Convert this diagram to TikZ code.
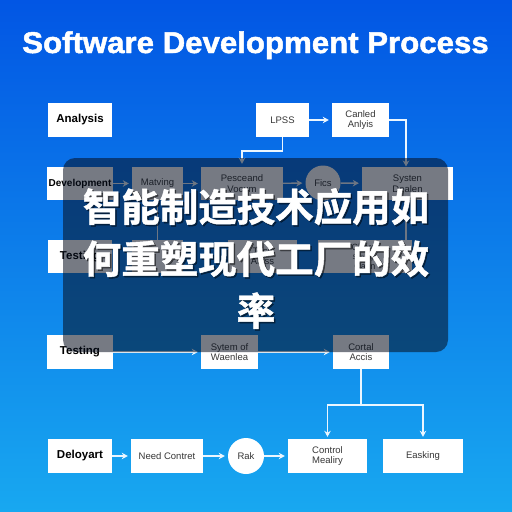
\documentclass[tikz,border=0pt]{standalone}
\usepackage{fontspec}
\setmainfont{Liberation Sans}
\newfontfamily\cjk{Noto Sans CJK SC Bold}[FakeBold=1.2]
\newfontfamily\titlefont{Liberation Sans Bold}[FakeBold=1.6]
\usetikzlibrary{arrows.meta,shapes.geometric}
\definecolor{bgtop}{RGB}{2,86,228}
\definecolor{bgmid}{RGB}{10,128,234}
\definecolor{bgbot}{RGB}{24,168,240}
\definecolor{boxtxt}{RGB}{55,55,55}
\definecolor{wirec}{RGB}{235,246,255}
\definecolor{veil}{RGB}{6,14,30}
\tikzset{
  box/.style={fill=white, inner sep=1pt, align=center, text=boxtxt,
    font=\fontsize{9.5}{10.5}\selectfont, minimum height=34pt},
  lbl/.style={box, text=black, font=\bfseries\fontsize{11.5}{13}\selectfont},
  circ/.style={circle, fill=white, minimum size=35pt, inner sep=0pt, text=boxtxt,
    font=\fontsize{9.5}{10.5}\selectfont},
  wire/.style={draw=wirec, line width=1.4pt},
  arr/.style={wire, -{Stealth[length=6pt,width=6.5pt]}, shorten >=3pt},
  headtext/.style={align=center, font=\cjk\fontsize{38.5}{52}\selectfont},
}
\begin{document}
\begin{tikzpicture}[x=1pt,y=-1pt]
\shade[top color=bgtop, middle color=bgmid, bottom color=bgbot] (0,0) rectangle (512,512);
\useasboundingbox (0,0) rectangle (512,512);
% title
\node[anchor=base, text=white, font=\titlefont\fontsize{30}{34}\selectfont] (title) at (255.5,53) {\scalebox{1.04}[1]{Software Development Process}};
% row 1
\node[lbl, minimum width=64pt] (ana) at (80,120) {Analysis};
\node[box, minimum width=53pt] (lpss) at (282.5,120) {LPSS};
\node[box, minimum width=57pt] (canled) at (360.5,120) {Canled\\Anlyis};
% row 2
\node[lbl, minimum width=66pt, minimum height=33pt, font=\bfseries\fontsize{10}{12}\selectfont] (dev) at (80,183.5) {Development};
\node[box, minimum width=51pt, minimum height=33pt] (mat) at (157.5,183.5) {Matving};
\node[box, minimum width=82pt, minimum height=33pt] (pass) at (242,183.5) {Pesceand\\Vocum};
\node[circ] (fics) at (323,183) {Fics};
\node[box, minimum width=91pt, minimum height=33pt] (sys) at (407.5,183.5) {Systen\\Dealen};
% row 3
\node[lbl, minimum width=64pt, minimum height=33pt] (test1) at (80,256.5) {Testing};
\node[box, minimum width=51pt, minimum height=33pt] (r3a) at (157.5,256.5) {};
\node[box, minimum width=69pt, minimum height=33pt] (r3b) at (262.5,256.5) {Tess\\Aniss};
\node[box, minimum width=94pt, minimum height=33pt, font=\fontsize{9}{9.5}\selectfont] (r3c) at (365,256.5) {Chnrel\\{\fontsize{6.5}{7}\selectfont Sag-uga}\\Catin};
% row 4
\node[lbl, minimum width=66pt] (test2) at (80,352) {Testing};
\node[box, minimum width=57pt] (sytem) at (229.5,352) {Sytem of\\Waenlea};
\node[box, minimum width=56pt] (cortal) at (361,352) {Cortal\\Accis};
% row 5
\node[lbl, minimum width=64pt] (dep) at (80,456) {Deloyart};
\node[box, minimum width=72pt] (need) at (167,456) {Need Contret};
\node[circ, minimum size=36pt] (rak) at (246,456) {Rak};
\node[box, minimum width=79pt] (ctrl) at (327.5,456) {Control\\Mealiry};
\node[box, minimum width=80pt] (eask) at (423,456) {Easking};
% connectors
\draw[arr] (lpss) -- (canled);
\draw[arr] (lpss.south) |- (242,151) -- (pass.north);
\draw[arr, shorten >=0pt] (canled.east) -| (406,166.5);
\draw[arr] (dev) -- (mat);
\draw[arr] (mat) -- (pass);
\draw[arr] (pass) -- (fics);
\draw[arr] (fics) -- (sys);
\draw[wire] (mat.south) -- (r3a.north);
\draw[wire] (406,200) -- (406,240);
\draw[arr] (test2) -- (sytem);
\draw[arr] (sytem) -- (cortal);
\coordinate (split) at (361,405);
\draw[wire] (cortal.south) -- (split);
\draw[arr, shorten >=2pt] (split) -| (ctrl.north);
\draw[arr, shorten >=2pt] (split) -| (eask.north);
\draw[arr] (dep) -- (need);
\draw[arr] (need) -- (rak);
\draw[arr] (rak) -- (ctrl);
% overlay
\fill[veil, opacity=0.55, rounded corners=12pt] (63,158) rectangle (448,352);
\node[headtext, text=black, opacity=0.45] at (257.5,260) {智能制造技术应用如\\何重塑现代工厂的效\\率};
\node[headtext, text=white] (headline) at (256,258.5) {智能制造技术应用如\\何重塑现代工厂的效\\率};
\end{tikzpicture}
\end{document}
